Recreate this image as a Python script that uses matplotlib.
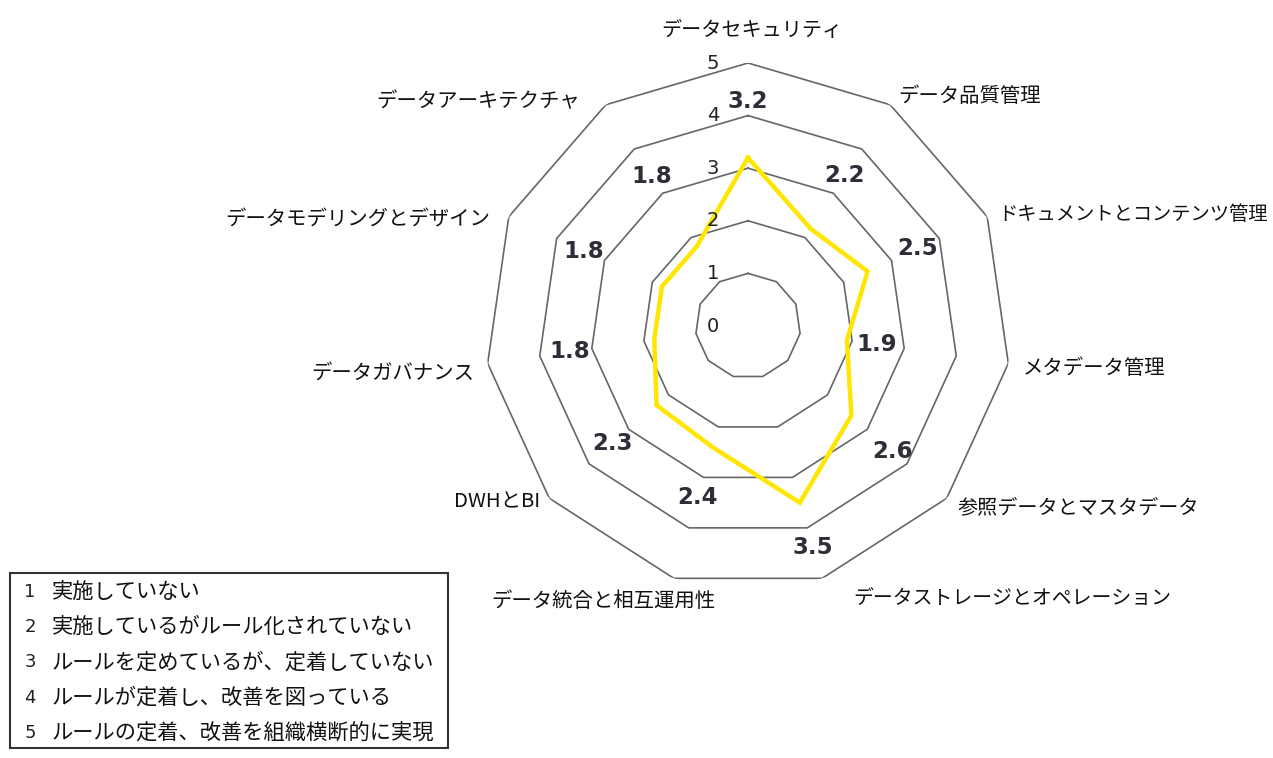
import numpy as np
import matplotlib
matplotlib.use("Agg")
import matplotlib.pyplot as plt
from matplotlib.patches import Rectangle

# ---- data ----
categories = [
    "データセキュリティ", "データ品質管理", "ドキュメントとコンテンツ管理",
    "メタデータ管理", "参照データとマスタデータ", "データストレージとオペレーション",
    "データ統合と相互運用性", "DWHとBI", "データガバナンス",
    "データモデリングとデザイン", "データアーキテクチャ",
]
values = [3.2, 2.2, 2.5, 1.9, 2.6, 3.5, 2.4, 2.3, 1.8, 1.8, 1.8]
levels = [1, 2, 3, 4, 5]
tick_labels = ["0", "1", "2", "3", "4", "5"]
legend_items = [
    ("1", "実施していない"),
    ("2", "実施しているがルール化されていない"),
    ("3", "ルールを定めているが、定着していない"),
    ("4", "ルールが定着し、改善を図っている"),
    ("5", "ルールの定着、改善を組織横断的に実現"),
]

# ---- layout / style ----
label_r = [4.26, 3.40, 3.54, 2.48, 3.63, 4.38, 3.39, 3.42, 3.43, 3.43, 3.37]
cat_offsets = [(4, 33, "center"), (8, 8, "left"), (11, 2, "left"), (14, -5, "left"),
               (11, -9, "left"), (31, -20, "left"), (41, -23, "right"), (-9, -4, "right"),
               (-13, -10, "right"), (-19, -3, "right"), (-26, 3, "right")]
cat_sizes = [14.5, 14.7, 13.9, 14.7, 14.5, 14.3, 14.7, 14.7, 14.7, 14.7, 14.7]
JP = ["Noto Sans CJK JP", "DejaVu Sans"]
GRID = "#666666"
YELLOW = "#FFE600"
DARK = "#2E2E38"

W, H = 1273, 758
fig = plt.figure(figsize=(W / 100, H / 100), dpi=100)
cx, cy, R = 748, 326, 263
ax = fig.add_axes([(cx - R) / W, (H - cy - R) / H, 2 * R / W, 2 * R / H], projection="polar")
ax.set_theta_zero_location("N")
ax.set_theta_direction(-1)
ax.set_ylim(0, 5)
ax.grid(False)
ax.set_xticks([])
ax.set_yticks([])
ax.spines["polar"].set_visible(False)
ax.patch.set_alpha(0)

n = len(categories)
theta = np.linspace(0, 2 * np.pi, n, endpoint=False)
theta_c = np.append(theta, theta[0])

for lv in levels:
    ax.plot(theta_c, [lv] * (n + 1), color=GRID, lw=1.2, zorder=1)

vals_c = values + values[:1]
ax.plot(theta_c, vals_c, color=YELLOW, lw=3.2, zorder=3, solid_joinstyle="miter")

# radial tick labels
for i, t in enumerate(tick_labels):
    ax.annotate(t, xy=(0, i), xytext=(-35, 0), textcoords="offset pixels",
                ha="center", va="center", fontsize=14, color="#222222",
                family="DejaVu Sans", annotation_clip=False)

# data labels
for th, v, r in zip(theta, values, label_r):
    ax.text(th, r, f"{v:.1f}", ha="center", va="center", fontsize=16.5,
            fontweight="bold", color=DARK, family="DejaVu Sans", zorder=4)

# category labels
for th, c, (dx, dy, ha), fs in zip(theta, categories, cat_offsets, cat_sizes):
    ax.annotate(c, xy=(th, 5), xytext=(dx, dy), textcoords="offset pixels",
                ha=ha, va="center", fontsize=fs, color="#111111", family=JP,
                annotation_clip=False)

# legend box
fig.patches.append(Rectangle((10 / W, 1 - 748 / H), 438 / W, 175 / H,
                             transform=fig.transFigure, fill=False,
                             edgecolor="#333333", lw=1.5))
for k, (num, txt) in enumerate(legend_items):
    y = 1 - (592 + 35.2 * k) / H
    fig.text(30 / W, y, num, ha="center", va="center", fontsize=13,
             color="#222222", family="DejaVu Sans")
    fig.text(52 / W, y, txt, ha="left", va="center", fontsize=15.3,
             color="#111111", family=JP)

fig.savefig("out.png", dpi=100)
